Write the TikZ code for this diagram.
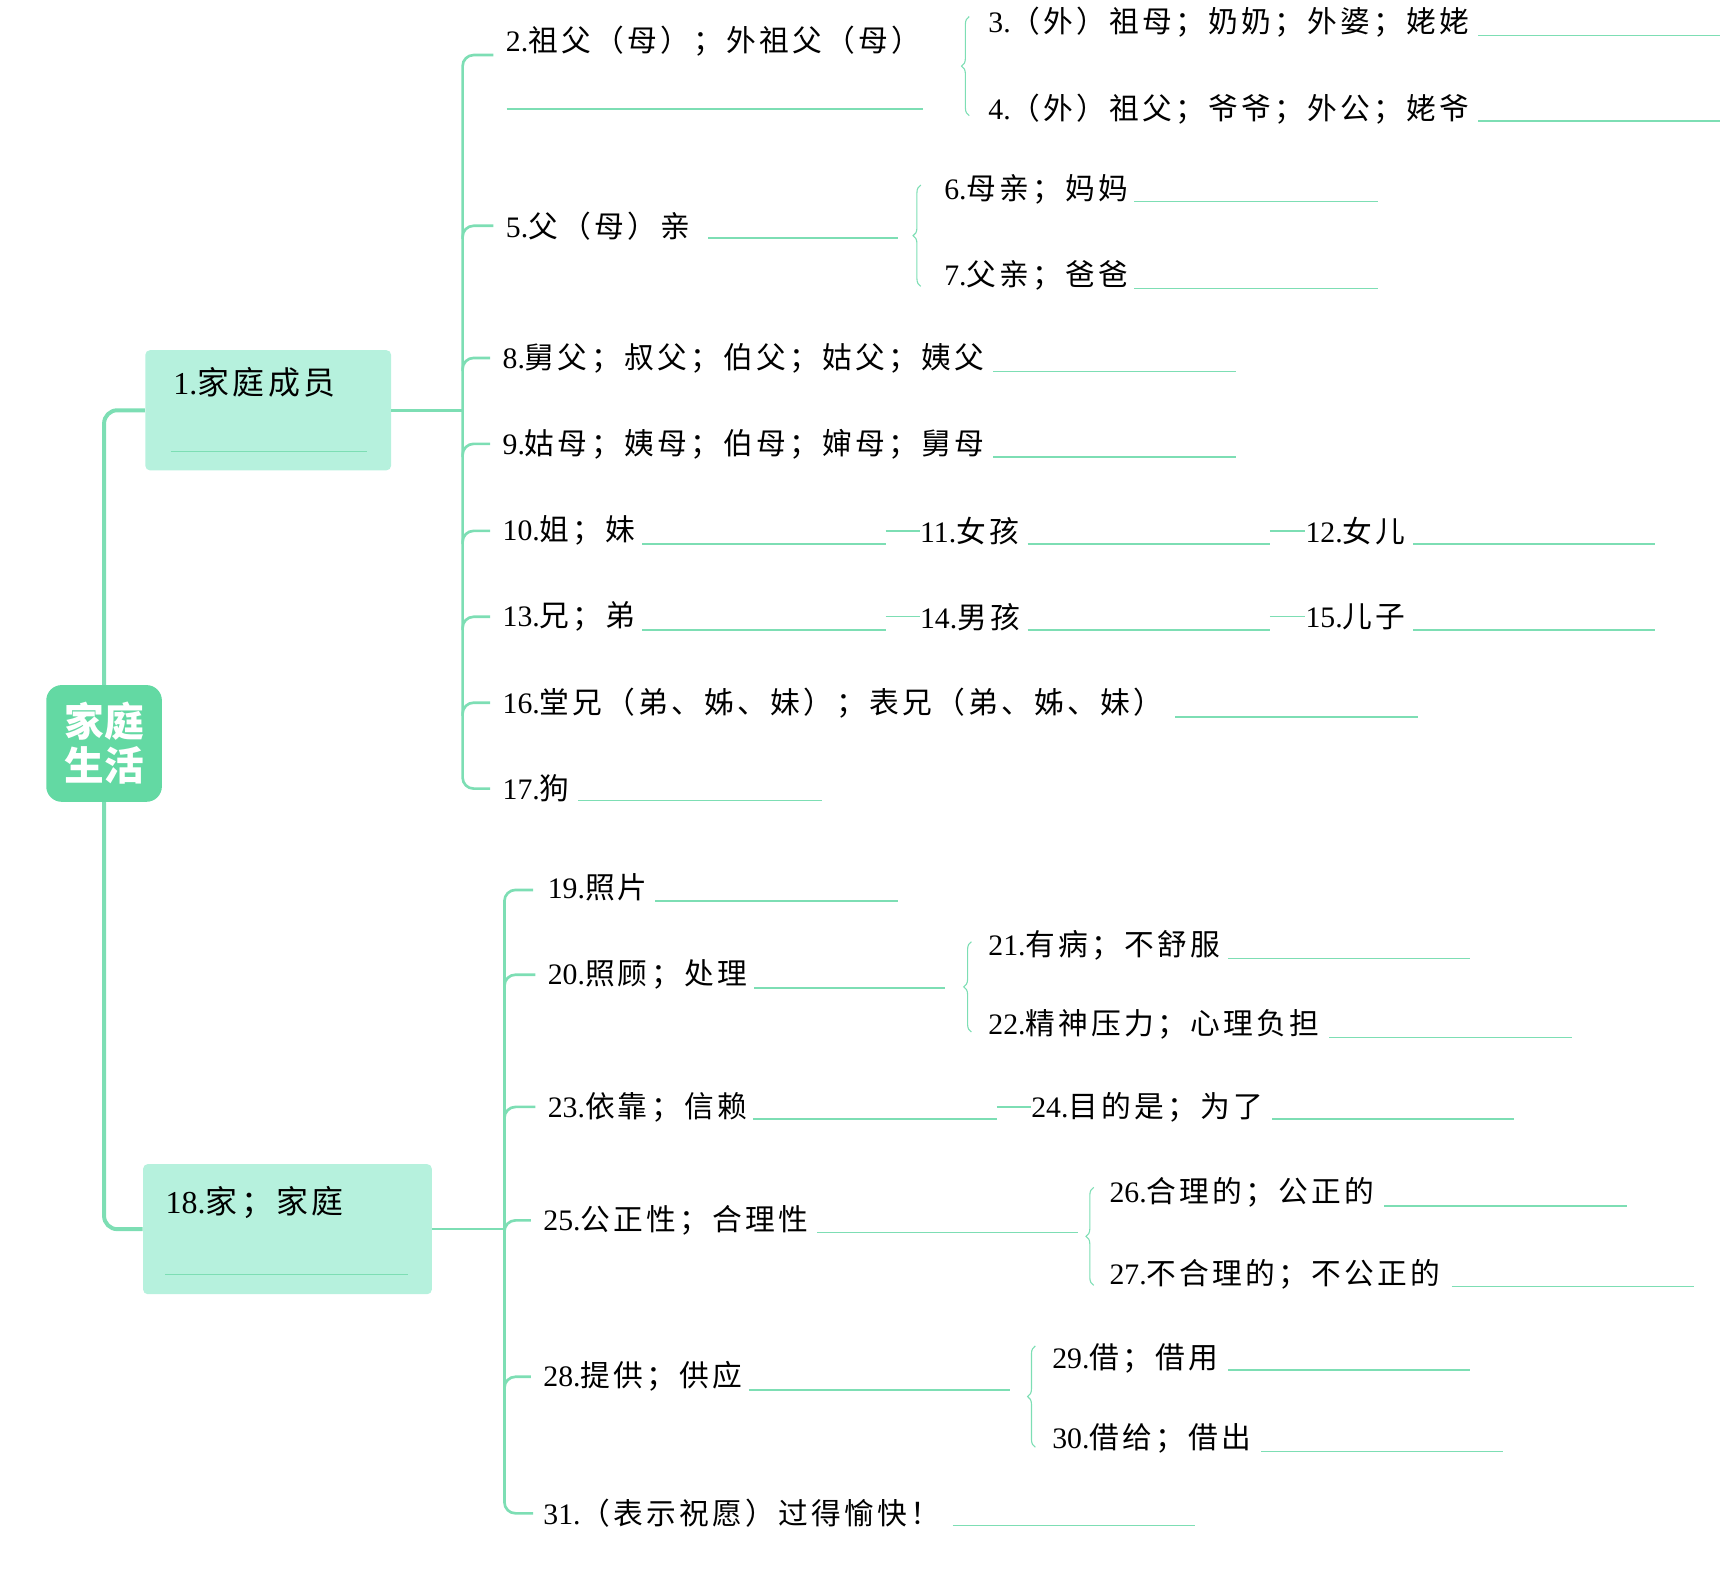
\documentclass[tikz,border=0pt]{standalone}
\usepackage{fontspec}
\setmainfont{Liberation Serif}
\newfontfamily\cjk[LetterSpace=11]{Noto Sans CJK SC}
\newfontfamily\cjkhead{Noto Sans CJK SC}
\usepackage{xcolor}
\usepackage{tikz}
\usetikzlibrary{positioning, calc, backgrounds, decorations.pathreplacing}
\definecolor{rootgreen}{RGB}{99, 217, 163}
\definecolor{boxmint}{RGB}{182, 241, 221}
\definecolor{linegreen}{RGB}{125, 222, 180}

\begin{document}
\begin{tikzpicture}[x=0.5pt, y=-0.5pt,
    root/.style={rectangle, rounded corners=7pt, fill=rootgreen, text=white, align=center,
        minimum width=52.5pt, minimum height=53pt, font=\cjkhead\bfseries\fontsize{18}{20}\selectfont},
    topic/.style={rectangle, rounded corners=2pt, fill=boxmint},
    topictext/.style={anchor=west, inner sep=0pt, font=\fontsize{14.5}{18}\selectfont},
    item/.style={anchor=west, inner sep=0pt, font=\fontsize{13.5}{16}\selectfont},
    trunk/.style={linegreen, line width=1.8pt, rounded corners=6pt},
    limb/.style={linegreen, line width=1.2pt, rounded corners=5pt},
    blank/.style={linegreen, line width=0.6pt},
    curly/.style={linegreen, line width=0.5pt, decorate, decoration={brace, amplitude=3.5pt}}]
    \useasboundingbox (0,0) rectangle (1568,1427);

    % 中心主题
    \node[root] (root) at (94.5, 675) {家庭\\生活};

    % 一级主题
    \node[topic, minimum width=111.5pt, minimum height=54.5pt] (fam) at (243.5, 372.5) {};
    \node[topictext] (famtxt) at (157, 347) {1.\cjk 家庭成员};
    \draw[blank] (155, 410) -- (333, 410);
    \node[topic, minimum width=131pt, minimum height=59pt] (home) at (261, 1116) {};
    \node[topictext] (hometxt) at (150, 1092) {18.\cjk 家；家庭};
    \draw[blank] (150, 1157) -- (370, 1157);

    \begin{scope}[on background layer]
        \draw[trunk] (fam.west) -| (root.center) |- (home.west);
    \end{scope}

    % 家庭成员
    \node[item] (n2) at (459, 37) {2.\cjk 祖父（母）；外祖父（母）};
    \node[item] (n3) at (897, 20) {3.\cjk （外）祖母；奶奶；外婆；姥姥};
    \node[item] (n4) at (897, 99) {4.\cjk （外）祖父；爷爷；外公；姥爷};
    \node[item] (n5) at (459, 205) {5.\cjk 父（母）亲};
    \node[item] (n6) at (857, 172) {6.\cjk 母亲；妈妈};
    \node[item] (n7) at (857, 250) {7.\cjk 父亲；爸爸};
    \node[item] (n8) at (456, 325) {8.\cjk 舅父；叔父；伯父；姑父；姨父};
    \node[item] (n9) at (456, 403) {9.\cjk 姑母；姨母；伯母；婶母；舅母};
    \node[item] (n10) at (456, 482) {10.\cjk 姐；妹};
    \node[item] (n11) at (835, 482) {11.\cjk 女孩};
    \node[item] (n12) at (1185, 482) {12.\cjk 女儿};
    \node[item] (n13) at (456, 560) {13.\cjk 兄；弟};
    \node[item] (n14) at (835, 560) {14.\cjk 男孩};
    \node[item] (n15) at (1185, 560) {15.\cjk 儿子};
    \node[item] (n16) at (456, 638) {16.\cjk 堂兄（弟、姊、妹）；表兄（弟、姊、妹）};
    \node[item] (n17) at (456, 716) {17.\cjk 狗};

    \draw[blank] (460, 99) -- (838, 99);
    \draw[blank] (1342, 32) -- (1562, 32);
    \draw[blank] (1342, 110) -- (1562, 110);
    \draw[blank] (643, 216) -- (815, 216);
    \draw[blank] (1030, 183) -- (1251, 183);
    \draw[blank] (1030, 262) -- (1251, 262);
    \draw[blank] (902, 337) -- (1122, 337);
    \draw[blank] (902, 415) -- (1122, 415);
    \draw[blank] (583, 494) -- (804, 494) coordinate (b10);
    \draw[blank] (933, 494) -- (1153, 494) coordinate (b11);
    \draw[blank] (1283, 494) -- (1503, 494);
    \draw[blank] (583, 572) -- (804, 572) coordinate (b13);
    \draw[blank] (933, 572) -- (1153, 572) coordinate (b14);
    \draw[blank] (1283, 572) -- (1503, 572);
    \draw[blank] (1067, 651) -- (1287, 651);
    \draw[blank] (525, 727) -- (746, 727);

    \coordinate (fs) at (420, 372.5);
    \draw[limb] (fam.east) -- (fs);
    \draw[limb] ($(n2.west)+(-11,13)$) -| (fs) |- ($(n17.west)+(-11,0)$);
    \foreach \n in {5,8,9,10,13,16}
        \draw[limb] (fs |- n\n.west) ++(0,12) |- ($(n\n.west)+(-11,0)$);

    \draw[blank] (b10 |- n11.west) -- (n11.west);
    \draw[blank] (b11 |- n12.west) -- (n12.west);
    \draw[blank] (b13 |- n14.west) -- (n14.west);
    \draw[blank] (b14 |- n15.west) -- (n15.west);

    \draw[curly] ($(n4.west)+(-17,6)$) -- ($(n3.west)+(-17,-5)$);
    \draw[curly] ($(n7.west)+(-21,10)$) -- ($(n6.west)+(-21,-4)$);

    % 家；家庭
    \node[item] (n19) at (497, 806) {19.\cjk 照片};
    \node[item] (n20) at (497, 885) {20.\cjk 照顾；处理};
    \node[item] (n21) at (897, 858) {21.\cjk 有病；不舒服};
    \node[item] (n22) at (897, 930) {22.\cjk 精神压力；心理负担};
    \node[item] (n23) at (497, 1005) {23.\cjk 依靠；信赖};
    \node[item] (n24) at (936, 1005) {24.\cjk 目的是；为了};
    \node[item] (n25) at (493, 1108) {25.\cjk 公正性；合理性};
    \node[item] (n26) at (1007, 1083) {26.\cjk 合理的；公正的};
    \node[item] (n27) at (1007, 1157) {27.\cjk 不合理的；不公正的};
    \node[item] (n28) at (493, 1250) {28.\cjk 提供；供应};
    \node[item] (n29) at (955, 1233) {29.\cjk 借；借用};
    \node[item] (n30) at (955, 1306) {30.\cjk 借给；借出};
    \node[item] (n31) at (493, 1374) {31.\cjk （表示祝愿）过得愉快！};

    \draw[blank] (595, 818) -- (815, 818);
    \draw[blank] (685, 897) -- (858, 897);
    \draw[blank] (1115, 870) -- (1335, 870);
    \draw[blank] (1207, 942) -- (1427, 942);
    \draw[blank] (684, 1016) -- (905, 1016) coordinate (b23);
    \draw[blank] (1155, 1016) -- (1375, 1016);
    \draw[blank] (742, 1119) -- (979, 1119);
    \draw[blank] (1257, 1095) -- (1477, 1095);
    \draw[blank] (1318, 1168) -- (1538, 1168);
    \draw[blank] (680, 1262) -- (917, 1262);
    \draw[blank] (1115, 1244) -- (1335, 1244);
    \draw[blank] (1145, 1318) -- (1365, 1318);
    \draw[blank] (865, 1385) -- (1085, 1385);

    \coordinate (hs) at (458, 1116);
    \draw[limb] (home.east) -- (hs);
    \draw[limb] ($(n19.west)+(-13,2)$) -| (hs) |- ($(n31.west)+(-9,0)$);
    \foreach \n in {20,23,25,28}
        \draw[limb] (hs |- n\n.west) ++(0,12) |- ($(n\n.west)+(-11,0)$);

    \draw[blank] (b23 |- n24.west) -- (n24.west);

    \draw[curly] ($(n22.west)+(-15,7)$) -- ($(n21.west)+(-15,-3)$);
    \draw[curly] ($(n27.west)+(-14,10)$) -- ($(n26.west)+(-14,-5)$);
    \draw[curly] ($(n30.west)+(-15,8)$) -- ($(n29.west)+(-15,-11)$);
\end{tikzpicture}
\end{document}
